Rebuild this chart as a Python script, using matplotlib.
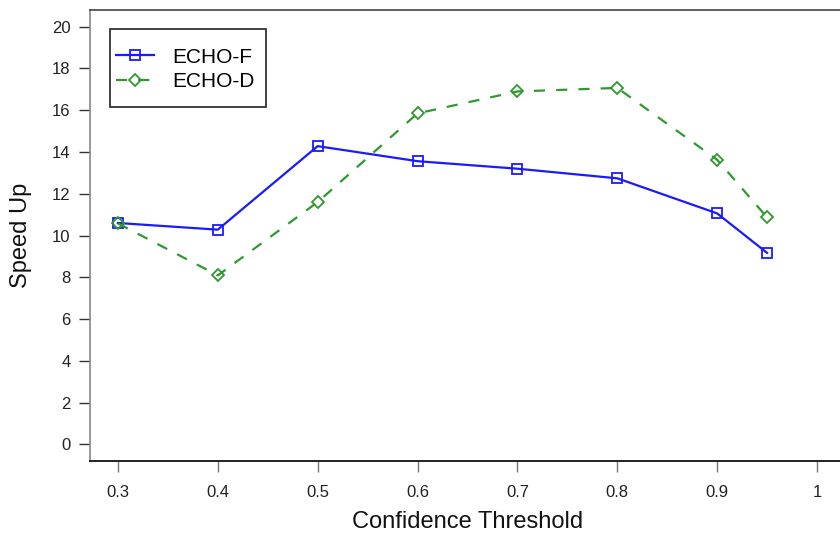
import matplotlib
matplotlib.use("Agg")
import matplotlib.pyplot as plt
from matplotlib.patches import Rectangle

plt.rcParams['font.family'] = ['Liberation Sans', 'DejaVu Sans']

thresholds = [0.3, 0.4, 0.5, 0.6, 0.7, 0.8, 0.9, 0.95]
echo_f = [10.6, 10.28, 14.28, 13.56, 13.2, 12.74, 11.06, 9.17]
echo_d = [10.58, 8.09, 11.6, 15.85, 16.9, 17.07, 13.63, 10.87]
x_ticks = [0.3, 0.4, 0.5, 0.6, 0.7, 0.8, 0.9, 1.0]
x_tick_labels = ['0.3', '0.4', '0.5', '0.6', '0.7', '0.8', '0.9', '1']
y_ticks = list(range(0, 21, 2))

fig = plt.figure(figsize=(8.4, 5.39), dpi=100)
ax = fig.add_axes([0.1071, 0.1447, 0.8988, 0.8367])

ax.plot(thresholds, echo_f, color='#1a1aff', lw=1.6, marker='s', markersize=6.5,
        markerfacecolor='none', markeredgecolor='#1a1aff', markeredgewidth=1.3,
        label='ECHO-F')
ax.plot(thresholds, echo_d, color='#2e9a2e', lw=1.6, linestyle=(0, (5, 5)),
        marker='D', markersize=6, markerfacecolor='none', markeredgecolor='#2e9a2e',
        markeredgewidth=1.3, label='ECHO-D')

ax.set_xlim(0.272, 1.028)
ax.set_ylim(-0.8, 20.8)
ax.set_xticks(x_ticks)
ax.set_xticklabels(x_tick_labels)
ax.set_yticks(y_ticks)

ax.tick_params(axis='both', direction='out', length=8, width=1.0, labelsize=12,
               labelcolor='#222222')
ax.tick_params(axis='x', pad=9, color='#777777')
ax.tick_params(axis='y', pad=6, color='#333333')

ax.spines['left'].set_color('#888888')
ax.spines['left'].set_linewidth(1.2)
ax.spines['bottom'].set_color('#111111')
ax.spines['bottom'].set_linewidth(1.3)
ax.spines['top'].set_color('#444444')
ax.spines['top'].set_linewidth(1.2)
ax.spines['right'].set_color('#444444')

ax.set_xlabel('Confidence Threshold', fontsize=17, color='#111111', labelpad=8)
ax.set_ylabel('Speed Up', fontsize=17, color='#111111', labelpad=14)

# legend frame (R-style, square corners)
ax.add_patch(Rectangle((0.0265, 0.785), 0.2066, 0.173, transform=ax.transAxes,
                       fill=True, facecolor='white', edgecolor='#222222',
                       linewidth=1.2, zorder=4))
leg = ax.legend(loc='center left', bbox_to_anchor=(0.0344, 0.868), fontsize=15,
                frameon=False, handlelength=1.85, handletextpad=0.85,
                borderpad=0, labelspacing=0.27, borderaxespad=0)
leg.set_zorder(5)

fig.savefig('out.png', dpi=100)
